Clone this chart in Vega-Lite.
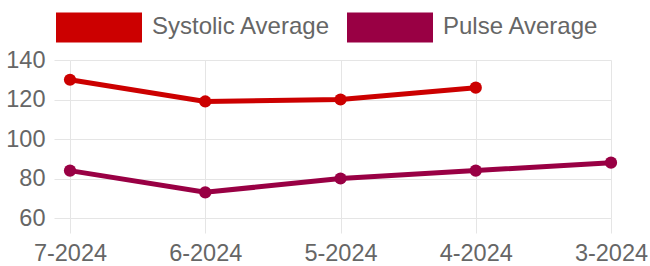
{
  "$schema": "https://vega.github.io/schema/vega-lite/v6.json",
  "autosize": {"type": "none"},
  "padding": {"left": 70, "top": 60, "right": 39, "bottom": 48},
  "width": 541,
  "height": 158,
  "config": {
    "font": "Liberation Sans",
    "view": {"stroke": null},
    "axis": {
      "gridColor": "#e5e5e5",
      "gridWidth": 1,
      "tickColor": "#e5e5e5",
      "tickWidth": 1,
      "domain": false,
      "labelFontSize": 23.5,
      "labelColor": "#666666",
      "labelFont": "Liberation Sans",
      "title": null
    }
  },
  "data": {
    "values": [
      {"month": "7-2024", "series": "Systolic Average", "value": 130},
      {"month": "6-2024", "series": "Systolic Average", "value": 119},
      {"month": "5-2024", "series": "Systolic Average", "value": 120},
      {"month": "4-2024", "series": "Systolic Average", "value": 126},
      {"month": "7-2024", "series": "Pulse Average", "value": 84},
      {"month": "6-2024", "series": "Pulse Average", "value": 73},
      {"month": "5-2024", "series": "Pulse Average", "value": 80},
      {"month": "4-2024", "series": "Pulse Average", "value": 84},
      {"month": "3-2024", "series": "Pulse Average", "value": 88}
    ]
  },
  "encoding": {
    "x": {
      "field": "month",
      "type": "ordinal",
      "scale": {"type": "point", "padding": 0, "domain": ["7-2024", "6-2024", "5-2024", "4-2024", "3-2024"]},
      "axis": {"labelAngle": 0, "tickSize": 15, "labelPadding": 8, "grid": true}
    },
    "y": {
      "field": "value",
      "type": "quantitative",
      "scale": {"domain": [60, 140], "nice": false, "zero": false},
      "axis": {"values": [60, 80, 100, 120, 140], "tickSize": 16, "labelPadding": 9, "grid": true}
    },
    "color": {
      "field": "series",
      "type": "nominal",
      "scale": {"domain": ["Systolic Average", "Pulse Average"], "range": ["#cc0000", "#990044"]},
      "legend": {
        "title": null,
        "orient": "none",
        "direction": "horizontal",
        "legendX": -14,
        "legendY": -76,
        "symbolType": "M-1,-0.35H1V0.35H-1Z",
        "symbolSize": 7396,
        "symbolStrokeWidth": 0,
        "symbolOpacity": 1,
        "labelFontSize": 24,
        "labelColor": "#666666",
        "labelFont": "Liberation Sans",
        "labelOffset": 10,
        "columnPadding": 16,
        "padding": 0,
        "labelLimit": 400
      }
    }
  },
  "layer": [
    {"mark": {"type": "line", "strokeWidth": 5}},
    {"mark": {"type": "point", "filled": true, "size": 150, "opacity": 1}}
  ]
}
